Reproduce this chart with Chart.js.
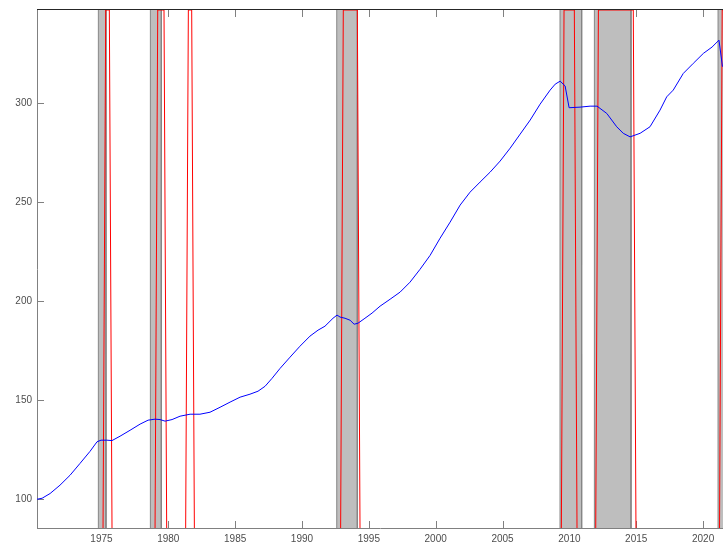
<!DOCTYPE html>
<html>
<head>
<meta charset="utf-8">
<script src="https://cdn.jsdelivr.net/npm/chart.js@4.4.1/dist/chart.umd.min.js"></script>
<style>
  html, body { margin: 0; padding: 0; background: #ffffff; overflow: hidden; }
  canvas { display: block; }
</style>
</head>
<body>
<canvas id="grafica" width="723" height="544"></canvas>
<script>
// Serie trimestral (índice, base 100)
const anios = [
    1970.18, 1970.56, 1971.16, 1971.90, 1972.65, 1973.40, 1974.15, 1974.67, 1974.97, 1975.40,
    1975.79, 1976.39, 1977.14, 1977.89, 1978.49, 1979.01, 1979.38, 1979.76, 1980.28, 1980.88,
    1981.63, 1982.37, 1983.12, 1983.87, 1984.62, 1985.37, 1986.11, 1986.71, 1987.24, 1987.76,
    1988.36, 1989.11, 1989.85, 1990.60, 1991.20, 1991.72, 1992.32, 1992.62, 1992.85, 1993.22,
    1993.60, 1993.90, 1994.19, 1994.71, 1995.24, 1995.84, 1996.59, 1997.34, 1998.08, 1998.83,
    1999.58, 2000.33, 2001.08, 2001.83, 2002.57, 2003.32, 2004.07, 2004.82, 2005.57, 2006.32,
    2007.07, 2007.81, 2008.56, 2008.94, 2009.31, 2009.68, 2009.98, 2010.80, 2011.55, 2012.07,
    2012.80, 2013.54, 2014.03, 2014.54, 2015.29, 2016.03, 2016.78, 2017.28, 2017.77, 2018.52,
    2019.27, 2020.02, 2020.67, 2021.19, 2021.45
];
const indice = [
    100.0, 100.5, 102.9, 107.1, 112.1, 118.1, 124.2, 129.0, 129.8, 129.8,
    129.6, 131.8, 134.8, 137.9, 139.9, 140.4, 140.2, 139.4, 140.2, 141.9,
    142.9, 142.9, 143.9, 146.4, 149.0, 151.5, 153.0, 154.5, 157.0, 161.0,
    166.0, 171.7, 177.2, 182.3, 185.3, 187.3, 191.3, 192.9, 191.9, 191.3,
    190.3, 188.3, 188.8, 191.3, 193.9, 197.4, 200.9, 204.5, 209.5, 216.0,
    223.0, 231.7, 239.8, 248.4, 254.9, 260.0, 265.0, 270.6, 277.1, 284.2,
    291.3, 299.3, 306.4, 309.4, 310.9, 308.5, 297.5, 297.8, 298.3, 298.3,
    294.6, 287.9, 284.6, 282.8, 284.6, 287.9, 296.3, 303.0, 306.4, 314.8,
    319.9, 324.9, 328.1, 331.6, 318.2
];

// Periodos sombreados en gris (inicio / fin)
const grisInicio = [1974.77, 1978.66, 1992.60, 2009.30, 2011.87, 2021.12];
const grisFin    = [1975.34, 1979.48, 1994.14, 2010.92, 2014.61, 2022.00];

// Periodos del indicador rojo (primer y último trimestre arriba)
const rojoInicio = [1975.32, 1979.21, 1981.50, 1993.09, 2009.60, 2012.17, 2021.43];
const rojoFin    = [1975.59, 1979.68, 1981.75, 1994.14, 2010.37, 2014.78, 2022.00];

const ticksX = [1975, 1980, 1985, 1990, 1995, 2000, 2005, 2010, 2015, 2020];
const ticksY = [100, 150, 200, 250, 300];

// Límites de los ejes
const xMin = 1970.18, xMax = 2021.49;
const yMin = 85.5, yMax = 346.8;
const rampa = 0.2; // subida/bajada del indicador (un trimestre aprox.)

// Datasets
const serieAzul = {
    data: anios.map((a, i) => ({ x: a, y: indice[i] })),
    borderColor: '#0000ff',
    borderWidth: 1,
    pointRadius: 0,
    tension: 0,
    fill: false,
    order: 1
};

const seriesRojas = rojoInicio.map((ini, i) => ({
    data: [
        { x: ini - rampa, y: yMin },
        { x: ini, y: yMax },
        { x: rojoFin[i], y: yMax },
        { x: rojoFin[i] + rampa, y: yMin }
    ],
    borderColor: '#ff0000',
    borderWidth: 1,
    pointRadius: 0,
    tension: 0,
    fill: false,
    order: 2
}));

const seriesGrises = grisInicio.map((ini, i) => ({
    data: [
        { x: ini, y: yMin - 10 },
        { x: ini, y: yMax + 10 },
        { x: grisFin[i], y: yMax + 10 },
        { x: grisFin[i], y: yMin - 10 }
    ],
    borderColor: '#858585',
    backgroundColor: '#bebebe',
    borderWidth: 1,
    pointRadius: 0,
    tension: 0,
    fill: 'start',
    order: 3
}));

// Marco tipo MATLAB: línea superior y marcas hacia dentro
const marco = {
    id: 'marco',
    beforeDatasetsDraw(chart) {
        const { ctx, chartArea: a, scales: { x, y } } = chart;
        ctx.save();
        ctx.lineWidth = 1;
        ctx.strokeStyle = '#262626';
        ctx.beginPath();
        ctx.moveTo(a.left, a.top - 0.5);
        ctx.lineTo(a.right, a.top - 0.5);
        ctx.stroke();

        ctx.strokeStyle = '#808080';
        ctx.beginPath();
        ticksX.forEach(v => {
            const px = Math.round(x.getPixelForValue(v)) + 0.5;
            ctx.moveTo(px, a.bottom);
            ctx.lineTo(px, a.bottom - 7);
            ctx.moveTo(px, a.top);
            ctx.lineTo(px, a.top + 7);
        });
        ticksY.forEach(v => {
            const py = Math.round(y.getPixelForValue(v)) + 0.5;
            ctx.moveTo(a.left, py);
            ctx.lineTo(a.left + 7, py);
        });
        ctx.stroke();
        ctx.restore();
    }
};

const fuente = { family: "'Liberation Sans', Arial, sans-serif", size: 10 };

// quita el relleno automático que Chart.js reserva para las etiquetas
const sinRelleno = s => {
    s.paddingTop = 0;
    s.paddingBottom = 0;
    s.paddingLeft = 0;
    s.paddingRight = 0;
};

const ctx = document.getElementById('grafica').getContext('2d');
const grafica = new Chart(ctx, {
    type: 'line',
    data: { datasets: [serieAzul, ...seriesRojas, ...seriesGrises] },
    options: {
        responsive: false,
        animation: false,
        layout: { padding: { top: 10, right: 0, left: 0, bottom: 0 } },
        plugins: {
            legend: { display: false },
            tooltip: { enabled: false }
        },
        scales: {
            x: {
                type: 'linear',
                min: xMin,
                max: xMax,
                z: 1,
                grid: { display: false, drawTicks: false },
                border: { display: true, color: '#808080', width: 1 },
                afterBuildTicks: s => { s.ticks = ticksX.map(v => ({ value: v })); },
                afterFit: s => { s.height = 16; sinRelleno(s); },
                ticks: {
                    padding: 5,
                    color: '#4d4d4d',
                    font: fuente,
                    maxRotation: 0,
                    autoSkip: false,
                    callback: v => String(v)
                }
            },
            y: {
                type: 'linear',
                min: yMin,
                max: yMax,
                z: 1,
                grid: { display: false, drawTicks: false },
                border: { display: true, color: '#808080', width: 1 },
                afterBuildTicks: s => { s.ticks = ticksY.map(v => ({ value: v })); },
                afterFit: s => { s.width = 37; sinRelleno(s); },
                ticks: {
                    padding: 5,
                    color: '#4d4d4d',
                    font: fuente,
                    callback: v => String(v)
                }
            }
        }
    },
    plugins: [marco]
});
</script>
</body>
</html>
